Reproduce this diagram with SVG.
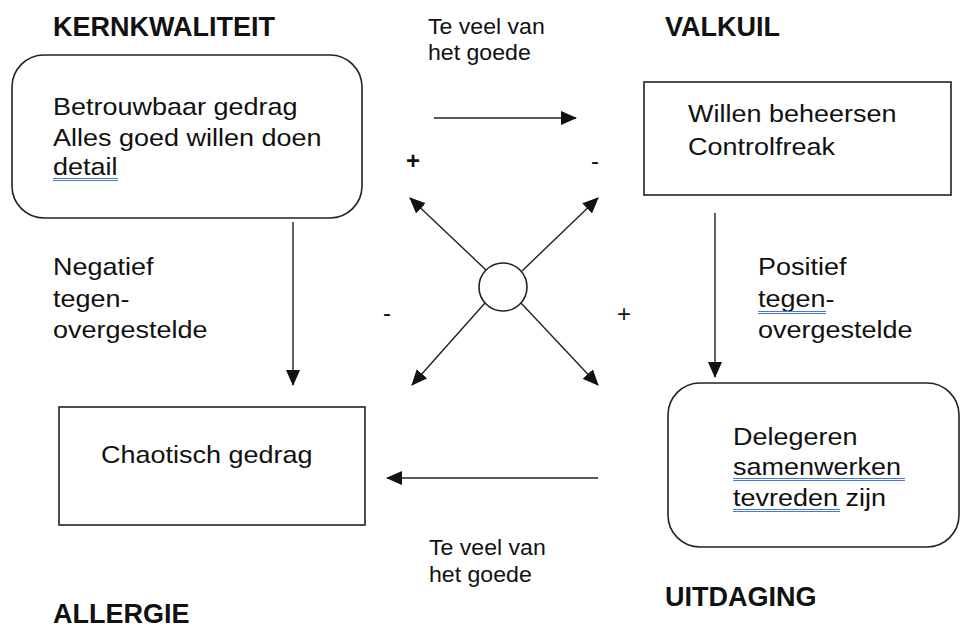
<svg xmlns="http://www.w3.org/2000/svg" width="961" height="629" viewBox="0 0 961 629">
<style>
  .box { fill: #fff; stroke: #222; stroke-width: 1.6; }
  .t { font-family: "Liberation Sans", Arial, sans-serif; font-size: 24px; fill: #111; }
  .s { font-family: "Liberation Sans", Arial, sans-serif; font-size: 22px; fill: #111; }
  .h { font-family: "Liberation Sans", Arial, sans-serif; font-size: 27px; font-weight: bold; fill: #111; }
  .c { stroke: #222; stroke-width: 1.4; fill: none; }
  .ul { stroke: #4a78d8; stroke-width: 1; }
</style>
<defs>
  <marker id="ah" viewBox="0 0 16 14" refX="15" refY="7" markerWidth="16" markerHeight="14" markerUnits="userSpaceOnUse" orient="auto">
    <path d="M0,0 L16,7 L0,14 Z" fill="#111"/>
  </marker>
</defs>

<!-- headings -->
<text class="h" x="53" y="36">KERNKWALITEIT</text>
<text class="h" x="665" y="36">VALKUIL</text>
<text class="h" x="665" y="606">UITDAGING</text>
<text class="h" x="53" y="623">ALLERGIE</text>

<g id="kernkwaliteit">
  <rect class="box" x="12" y="55" width="350" height="163" rx="32" ry="32"/>
  <text class="t" transform="translate(53 115) scale(1.125 1)">Betrouwbaar gedrag</text>
  <text class="t" transform="translate(53 146) scale(1.125 1)">Alles goed willen doen</text>
  <text class="t" transform="translate(53 175) scale(1.125 1)">detail</text>
  <line class="ul" x1="53" y1="178.5" x2="118" y2="178.5"/>
  <line class="ul" x1="53" y1="180.5" x2="118" y2="180.5"/>
</g>

<g id="valkuil">
  <rect class="box" x="644" y="82" width="307" height="113"/>
  <text class="t" transform="translate(688 122) scale(1.125 1)">Willen beheersen</text>
  <text class="t" transform="translate(688 155) scale(1.125 1)">Controlfreak</text>
</g>

<g id="uitdaging">
  <rect class="box" x="668" y="383" width="291" height="164" rx="32" ry="32"/>
  <text class="t" transform="translate(733 445) scale(1.125 1)">Delegeren</text>
  <text class="t" transform="translate(733 475) scale(1.125 1)">samenwerken</text>
  <text class="t" transform="translate(733 506) scale(1.125 1)">tevreden zijn</text>
  <line class="ul" x1="733" y1="478.5" x2="905" y2="478.5"/>
  <line class="ul" x1="733" y1="480.5" x2="905" y2="480.5"/>
  <line class="ul" x1="733" y1="509.5" x2="840" y2="509.5"/>
  <line class="ul" x1="733" y1="511.5" x2="840" y2="511.5"/>
</g>

<g id="allergie">
  <rect class="box" x="59" y="407" width="306" height="118"/>
  <text class="t" transform="translate(101 463) scale(1.125 1)">Chaotisch gedrag</text>
</g>

<g id="center">
  <circle class="box" cx="503" cy="287" r="24" stroke-width="1.4"/>
</g>

<g id="connectors">
  <line class="c" x1="434" y1="118" x2="576" y2="118" marker-end="url(#ah)"/>
  <line class="c" x1="598" y1="478" x2="387" y2="478" marker-end="url(#ah)"/>
  <line class="c" x1="293" y1="222" x2="293" y2="385" marker-end="url(#ah)"/>
  <line class="c" x1="715" y1="213" x2="715" y2="377" marker-end="url(#ah)"/>
  <line class="c" x1="486" y1="270" x2="410" y2="198" marker-end="url(#ah)"/>
  <line class="c" x1="522" y1="271" x2="598" y2="198" marker-end="url(#ah)"/>
  <line class="c" x1="485" y1="303" x2="412" y2="385" marker-end="url(#ah)"/>
  <line class="c" x1="521" y1="303" x2="598" y2="385" marker-end="url(#ah)"/>
</g>

<g id="labels">
  <text class="s" transform="translate(428 34) scale(1.05 1)">Te veel van</text>
  <text class="s" transform="translate(428 60) scale(1.05 1)">het goede</text>
  <text class="s" transform="translate(429 555) scale(1.05 1)">Te veel van</text>
  <text class="s" transform="translate(429 582) scale(1.05 1)">het goede</text>

  <text class="t" transform="translate(53 275) scale(1.125 1)">Negatief</text>
  <text class="t" transform="translate(53 307) scale(1.125 1)">tegen-</text>
  <text class="t" transform="translate(53 338) scale(1.125 1)">overgestelde</text>

  <text class="t" transform="translate(758 275) scale(1.125 1)">Positief</text>
  <text class="t" transform="translate(758 307) scale(1.125 1)">tegen-</text>
  <text class="t" transform="translate(758 338) scale(1.125 1)">overgestelde</text>
  <line class="ul" x1="758" y1="311.5" x2="826" y2="311.5"/>
  <line class="ul" x1="758" y1="313.5" x2="826" y2="313.5"/>

  <text class="t" x="413" y="169" text-anchor="middle" font-weight="bold">+</text>
  <text class="t" x="595" y="169" text-anchor="middle">-</text>
  <text class="t" x="387" y="321" text-anchor="middle">-</text>
  <text class="t" x="624" y="322" text-anchor="middle" font-size="26">+</text>
</g>
</svg>
